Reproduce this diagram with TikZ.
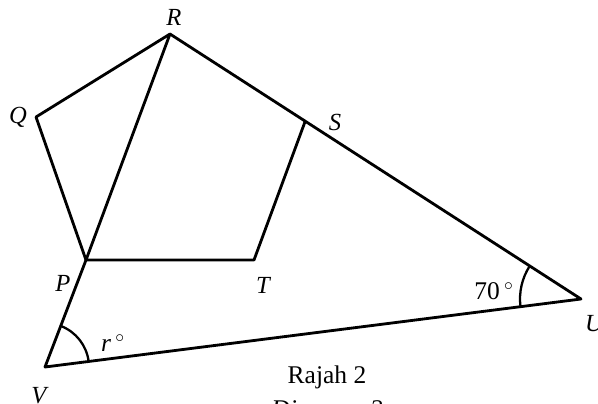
\documentclass[tikz,border=0pt]{standalone}
\usepackage{fontspec}
\setmainfont{Liberation Serif}
\usetikzlibrary{positioning,angles,calc}

\begin{document}
\begin{tikzpicture}[x=0.02cm,y=-0.02cm,
    edge/.style={line width=1.6pt,line cap=round,line join=round},
    vlab/.style={font=\fontsize{14}{16}\selectfont\itshape,inner sep=0pt},
    every node/.style={font=\fontsize{14.5}{16}\selectfont}]
  \useasboundingbox (0,0) rectangle (598,403);
  \clip (0,0) rectangle (598,403);
  \coordinate (R) at (170,34);
  \coordinate (Q) at (36,117);
  \coordinate (P) at (86,260);
  \coordinate (T) at (254,260);
  \coordinate (U) at (581,299);
  \coordinate (V) at (45,367);
  \coordinate (S) at ($(R)!0.329!(U)$);
  % pentagon and the big triangle
  \draw[edge] (P) -- (Q) -- (R) -- (P) -- (T) -- (S);
  \draw[edge] (R) -- (U) -- (V) -- (P);
  \pic[draw,line width=1.3pt,angle radius=0.88cm] {angle=U--V--P};
  \pic[draw,line width=1.3pt,angle radius=1.22cm] {angle=R--U--V};
  \node[vlab] (lR) at (174,17) {R};
  \node[vlab] (lQ) at (18,117) {Q};
  \node[vlab] (lS) at (335,122) {S};
  \node[vlab] (lP) at (63,283) {P};
  \node[vlab] (lT) at (263,285) {T};
  \node[vlab] (lU) at (594,324) {U};
  \node[vlab] (lV) at (39,396) {V};
  \node (l70) at (494,291) {70\,$^{\circ}$};
  \node (lr) at (113,343) {\textit{r}\,$^{\circ}$};
  \node (cap) at (327,377) {Rajah 2};
  \node[below=0pt of cap,font=\fontsize{14.5}{16}\selectfont\itshape] (capE) {Diagram 2};
\end{tikzpicture}
\end{document}
